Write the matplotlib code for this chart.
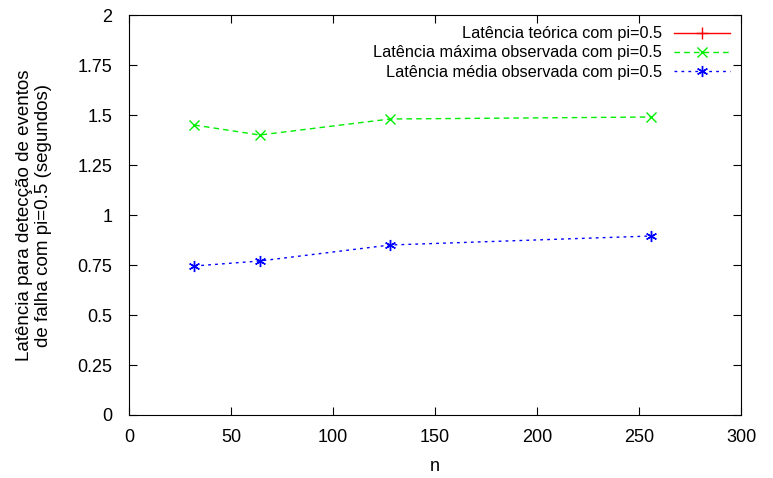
import matplotlib
matplotlib.use("Agg")
import matplotlib.pyplot as plt

# dados
n = [32, 64, 128, 256]
lat_teorica = []  # fora da faixa visivel no original
lat_maxima = [1.45, 1.40, 1.48, 1.49]
lat_media = [0.745, 0.77, 0.85, 0.895]

plt.rcParams['font.family'] = ['Liberation Sans', 'DejaVu Sans']
plt.rcParams['font.size'] = 13

fig = plt.figure(figsize=(7.73, 4.78), dpi=100)
ax = fig.add_axes([0.1669, 0.1318, 0.7917, 0.8368])

ax.plot(lat_teorica, lat_teorica, color='#ff0000', linewidth=1, marker='+',
        markersize=9, label='Latência teórica com pi=0.5')
ax.plot(n, lat_maxima, color='#00ee00', linewidth=1, linestyle=(0, (4, 3)),
        marker='x', markersize=7, label='Latência máxima observada com pi=0.5')
ax.plot(n, lat_media, color='#0000ff', linewidth=1, linestyle=(0, (2, 3)),
        marker=(6, 2, 0), markersize=8, label='Latência média observada com pi=0.5')

ax.set_xlim(0, 300)
ax.set_ylim(0, 2)
ax.set_xticks([0, 50, 100, 150, 200, 250, 300])
ax.set_yticks([0, 0.25, 0.5, 0.75, 1, 1.25, 1.5, 1.75, 2])
ax.set_yticklabels(['0', '0.25', '0.5', '0.75', '1', '1.25', '1.5', '1.75', '2'])
ax.tick_params(direction='in', top=True, right=True, length=6)
ax.tick_params(axis='x', pad=10)
ax.tick_params(axis='y', pad=12)
ax.set_xlabel('n', labelpad=9)
ax.set_ylabel('Latência para detecção de eventos\nde falha com pi=0.5 (segundos)',
              fontsize=13.5, labelpad=18)

leg = ax.legend(loc='upper right', frameon=False, markerfirst=False,
                fontsize=11.7, handlelength=3.4, labelspacing=0.25,
                borderaxespad=0.3, handletextpad=0.75)
for t in leg.get_texts():
    t.set_ha('right')
leg._legend_box.align = 'right'

fig.savefig('out.png', dpi=100)
